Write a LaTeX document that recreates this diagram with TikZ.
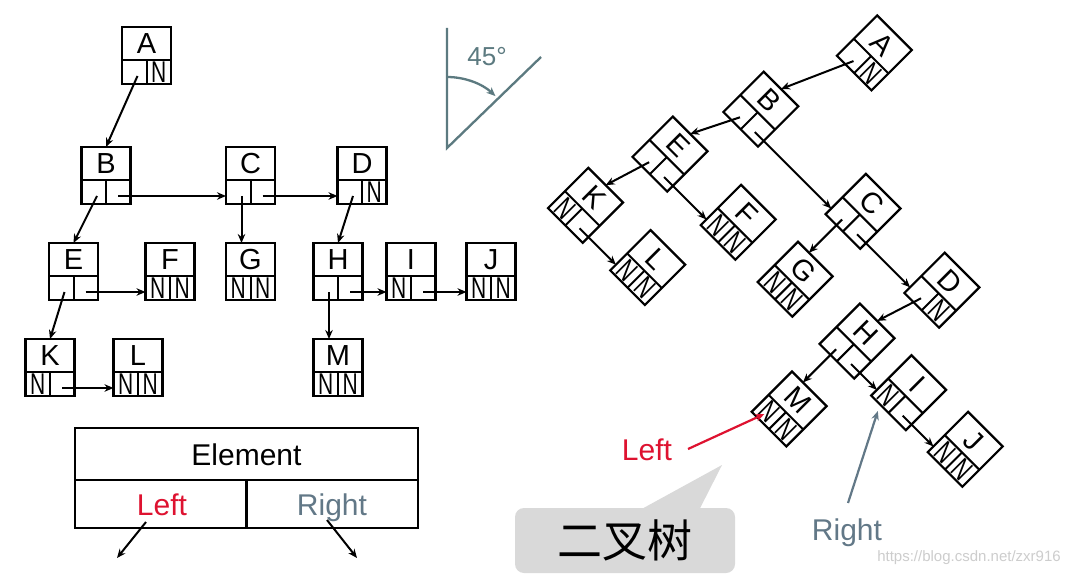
\documentclass[tikz,border=0pt]{standalone}
\usepackage{fontspec}
\usepackage{graphicx}
\setmainfont{Liberation Sans}
\newfontfamily\cjk{Noto Sans CJK SC}
\usetikzlibrary{arrows.meta,calc}
\definecolor{lred}{RGB}{222,18,48}
\definecolor{rgray}{RGB}{98,120,135}
\definecolor{agray}{RGB}{92,122,128}
\definecolor{cgray}{RGB}{217,217,217}
\definecolor{wm}{RGB}{205,205,205}
\tikzset{
  lbox/.style={draw,line width=2.2pt,minimum width=49pt,minimum height=57pt,inner sep=0pt,outer sep=0pt},
  divline/.style={line width=2pt},
  letter/.style={font=\fontsize{29}{29}\selectfont,inner sep=0pt},
  nulltxt/.style={font=\fontsize{30}{30}\selectfont,inner sep=0pt},
  ptr/.style={line width=2pt,-{Stealth[length=9pt,width=7.5pt]}},
  lbl/.style={font=\fontsize{30}{30}\selectfont,inner sep=0pt,anchor=base},
  tcell/.style={draw,line width=2.2pt,inner sep=0pt,outer sep=0pt},
}
\newcommand\lnode[6]{%
  \node[lbox] (#1) at (#2,#3) {};
  \draw[divline] (#2-24.5,#3+4.5) -- (#2+24.5,#3+4.5);
  \draw[divline] (#2,#3+4.5) -- (#2,#3+28.5);
  \node[letter] (#1-txt) at (#2,#3-12) {#4};
  \ifnum#5=1 \node[nulltxt] (#1-nl) at (#2-12.25,#3+16.5) {\scalebox{0.7}[1]{N}};\fi
  \ifnum#6=1 \node[nulltxt] (#1-nr) at (#2+12.25,#3+16.5) {\scalebox{0.7}[1]{N}};\fi
  \coordinate (#1-l) at (#2-9,#3+20.5);
  \coordinate (#1-r) at (#2+12,#3+20.5);
  \coordinate (#1-in) at (#2-24.5,#3+20.5);
  \coordinate (#1-t) at (#2-9,#3-28.5);
  \coordinate (#1-lb) at (#2-12,#3+28.5);
  \coordinate (#1-lc) at (#2-12.25,#3+16.5);
}
\newcommand\listtree[1]{%
  \lnode{#1A}{146.5}{55.5}{A}{0}{1}
  \lnode{#1B}{106}{175.5}{B}{0}{0}
  \lnode{#1C}{250.5}{175.5}{C}{0}{0}
  \lnode{#1D}{362}{175.5}{D}{0}{1}
  \lnode{#1E}{73.5}{271.5}{E}{0}{0}
  \lnode{#1F}{170}{271.5}{F}{1}{1}
  \lnode{#1G}{250.5}{271.5}{G}{1}{1}
  \lnode{#1H}{338}{271.5}{H}{0}{0}
  \lnode{#1I}{411}{271.5}{I}{1}{0}
  \lnode{#1J}{491}{271.5}{J}{1}{1}
  \lnode{#1K}{50}{367.5}{K}{1}{0}
  \lnode{#1L}{138}{367.5}{L}{1}{1}
  \lnode{#1M}{338}{367.5}{M}{1}{1}
  \draw[ptr] (#1A-l) -- (#1B.north);
  \draw[ptr] (#1B-l) -- (#1E.north);
  \draw[ptr] (#1B-r) -- (#1C-in);
  \draw[ptr] (#1C-l) -- (#1G-t);
  \draw[ptr] (#1C-r) -- (#1D-in);
  \draw[ptr] (#1D-l) -- (#1H.north);
  \draw[ptr] (#1E-l) -- (#1K.north);
  \draw[ptr] (#1E-r) -- (#1F-in);
  \draw[ptr] (#1K-r) -- (#1L-in);
  \draw[ptr] (#1H-l) -- (#1M-t);
  \draw[ptr] (#1H-r) -- (#1I-in);
  \draw[ptr] (#1I-r) -- (#1J-in);
}
\begin{document}
\begin{tikzpicture}[x=1pt,y=-1pt]
\useasboundingbox (0,0) rectangle (1075,577);
\fill[white] (0,0) rectangle (1075,577);
% left: linked representation
\listtree{L}
% node layout table
\node[tcell,minimum width=343pt,minimum height=52pt] (elem) at (246.5,454) {};
\node[tcell,minimum width=171.5pt,minimum height=48pt] (lcell) at (160.75,504) {};
\node[tcell,minimum width=171.5pt,minimum height=48pt] (rcell) at (332.25,504) {};
\node[lbl] (elemtxt) at (246.5,465) {Element};
\node[lbl,text=lred] (lefttxt) at (162,515) {Left};
\node[lbl,text=rgray] (righttxt) at (332,515) {Right};
\coordinate (ls) at (146,522);
\coordinate (le) at (117,558);
\coordinate (rs) at (327,520);
\coordinate (re) at (357,558);
\draw[ptr] (ls) -- (le);
\draw[ptr] (rs) -- (re);
% 45 degree sign
\coordinate (av) at (447,148);
\coordinate (atop) at (447,28);
\coordinate (adiag) at (541,57);
\draw[agray,line width=2.3pt] (atop) -- (av) -- (adiag);
\draw[agray,line width=2.3pt,-{Stealth[length=9pt,width=7.5pt]}] (447,77) arc[start angle=-90,end angle=-47,radius=71];
\node[font=\fontsize{26}{26}\selectfont,text=agray,inner sep=0pt] (deg) at (487,57) {45°};
% right: binary tree view (rotated 45 degrees)
\begin{scope}[shift={(810,-89.9)},rotate=-45,transform shape]
\listtree{R}
\end{scope}
% callout
\node[fill=cgray,rounded corners=9pt,minimum width=220pt,minimum height=65pt,inner sep=0pt,font=\cjk\fontsize{45}{45}\selectfont] (bt) at (625,540.5) {二叉树};
\coordinate (cp) at (722,465);
\fill[cgray] ($(bt.north)+(18,0.5)$) -- (cp) -- ($(bt.north)+(75,0.5)$) -- cycle;
% labels on right
\node[lbl,text=lred] (Ltxt) at (647,460) {Left};
\coordinate (Ls) at (688,449);
\draw[lred,line width=2.2pt,-{Stealth[length=9pt,width=7.5pt]},shorten >=5pt] (Ls) -- (RM-lc);
\node[lbl,text=rgray] (Rtxt) at (847,540) {Right};
\coordinate (Rs) at (848,503);
\draw[rgray,line width=2.2pt,-{Stealth[length=9pt,width=7.5pt]},shorten >=7pt] (Rs) -- (RI-lb);
\node[font=\fontsize{15}{15}\selectfont,text=wm,inner sep=0pt] (wmk) at (969,558) {https://blog.csdn.net/zxr916};
\end{tikzpicture}
\end{document}
